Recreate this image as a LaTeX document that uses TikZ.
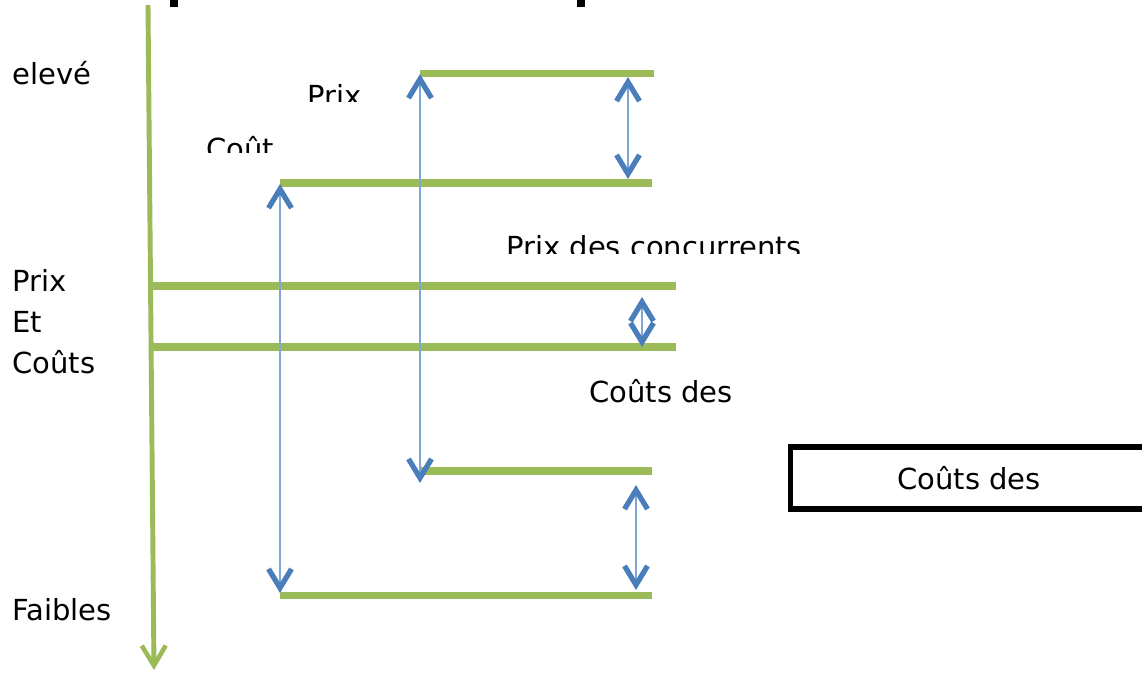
\documentclass[tikz,border=0pt]{standalone}
\usepackage{fontspec}
\setmainfont{DejaVu Sans}
\usetikzlibrary{arrows.meta}
\definecolor{vert}{HTML}{9BBB59}
\definecolor{bleu}{HTML}{4A7EBB}
\definecolor{bleuclair}{HTML}{7EA6D8}
\tikzset{
  etiquette/.style={font=\fontsize{16.5}{20}\selectfont, inner sep=0pt, anchor=base west},
  niveau/.style={vert, line width=4.4pt},
  ecart/.style={bleuclair, line width=0.9pt,
    {Straight Barb[length=3.8mm, width=4.6mm, line width=3pt, color=bleu]}-{Straight Barb[length=3.8mm, width=4.6mm, line width=3pt, color=bleu]}},
  cadre/.style={draw=black, line width=2.9pt, minimum width=7.14cm, minimum height=1.24cm,
    font=\fontsize{16.5}{20}\selectfont}
}
\begin{document}
\begin{tikzpicture}[x=0.02cm, y=-0.02cm]
\clip (0,0) rectangle (1142,673);
\fill[white] (0,0) rectangle (1142,673);
\fill[black] (170,0) rectangle (178,7);
\fill[black] (577,0) rectangle (585,7);

\coordinate (axehaut) at (148,5);
\coordinate (axebas) at (154,670);
\draw[vert, line width=2.8pt, -{Straight Barb[length=4mm, width=4.8mm, line width=2.6pt]}] (axehaut) -- (axebas);

\node[etiquette] (eleve) at (12,84) {elevé};
\node[etiquette] (prixg) at (12,291) {Prix};
\node[etiquette] (et) at (12,332) {Et};
\node[etiquette] (coutsg) at (12,373) {Coûts};
\node[etiquette] (faibles) at (12,620) {Faibles};

\begin{scope}
  \clip (290,60) rectangle (400,101);
  \node[etiquette] (prix) at (307,106) {Prix};
\end{scope}
\begin{scope}
  \clip (190,120) rectangle (300,152);
  \node[etiquette] (cout) at (206,159) {Coût};
\end{scope}
\begin{scope}
  \clip (490,220) rectangle (840,253);
  \node[etiquette] (prixconc) at (506,257) {Prix des concurrents};
\end{scope}
\node[etiquette] (coutsdes) at (589,402) {Coûts des};
\node[cadre] (boite) at (969,478) {Coûts des};

\coordinate (p1) at (420,73.5);   \coordinate (p2) at (654,73.5);
\coordinate (c1) at (280,183);    \coordinate (c2) at (652,183);
\coordinate (pc1) at (153,286);   \coordinate (pc2) at (676,286);
\coordinate (cc1) at (153,347);   \coordinate (cc2) at (676,347);
\coordinate (b1) at (420,471);    \coordinate (b2) at (652,471);
\coordinate (f1) at (280,595.5);  \coordinate (f2) at (652,595.5);
\foreach \g/\d in {p1/p2, c1/c2, pc1/pc2, cc1/cc2, b1/b2, f1/f2}
  \draw[niveau] (\g) -- (\d);

\draw[ecart] (420,74) -- (420,483);
\draw[ecart] (280,184) -- (280,593);
\draw[ecart] (628,77) -- (628,179);
\draw[ecart] (642,297) -- (642,347);
\draw[ecart] (636,485) -- (636,590);
\end{tikzpicture}
\end{document}
